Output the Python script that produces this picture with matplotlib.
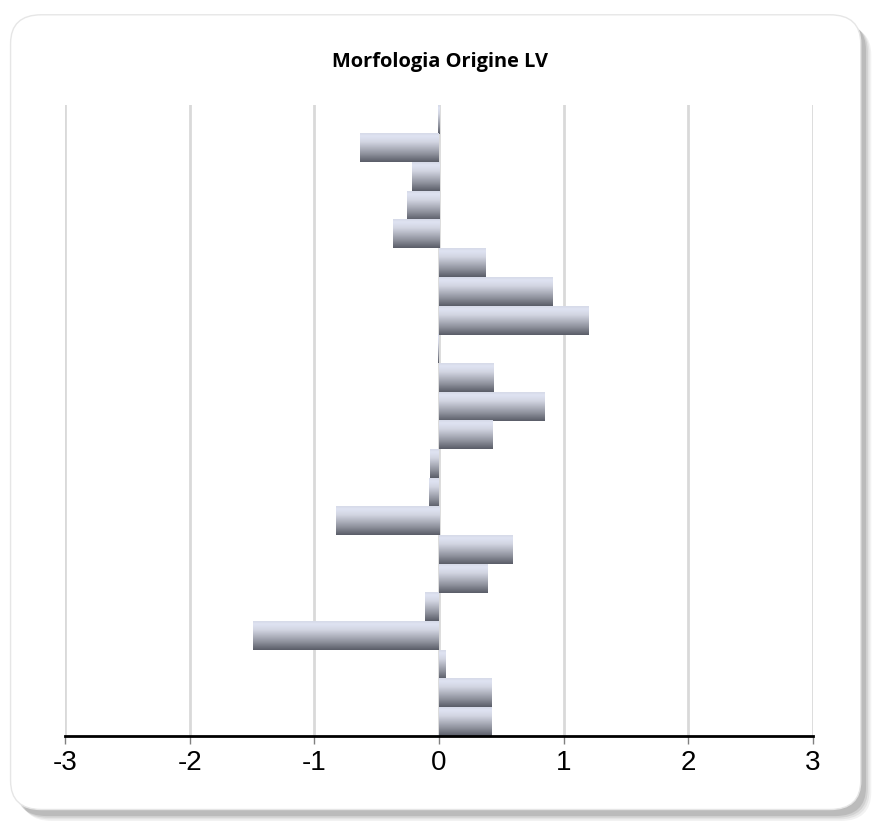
#!/usr/bin/env python3

import numpy as np
import matplotlib
matplotlib.use('Agg')
import matplotlib.pyplot as plt
from matplotlib.patches import FancyBboxPatch
from matplotlib.colors import LinearSegmentedColormap

# values, top bar first
values = [-0.01, -0.63, -0.22, -0.26, -0.37, 0.37, 0.91, 1.20, -0.005, 0.44,
          0.85, 0.43, -0.07, -0.08, -0.83, 0.59, 0.39, -0.11, -1.49, 0.05,
          0.42, 0.42]
xticks = [-3, -2, -1, 0, 1, 2, 3]
title = 'Morfologia Origine LV'


def main():
    fig = plt.figure(figsize=(8.81, 8.21), dpi=100)

    # rounded card with a soft shadow
    for i, a in enumerate([0.05, 0.06, 0.08, 0.10]):
        off = (4 - i) * 0.002
        shadow = FancyBboxPatch((0.012 + off + 0.004, 0.012 - off - 0.004), 0.965, 0.968,
                                boxstyle='round,pad=0,rounding_size=0.035',
                                transform=fig.transFigure, facecolor='black',
                                edgecolor='none', alpha=a, zorder=-2)
        fig.patches.append(shadow)
    card = FancyBboxPatch((0.012, 0.014), 0.965, 0.968,
                          boxstyle='round,pad=0,rounding_size=0.035',
                          transform=fig.transFigure, facecolor='white',
                          edgecolor='#e6e6e6', linewidth=1, zorder=-1)
    fig.patches.append(card)

    ax = fig.add_axes([0.0738, 0.1035, 0.849, 0.7685])
    ax.set_facecolor('none')
    ax.set_zorder(2)

    n = len(values)
    y = np.arange(n)
    bars = ax.barh(y, values, height=1.0, color='none', edgecolor='none')

    # vertical gradient: pale lavender on top, dark slate at the bottom
    cmap = LinearSegmentedColormap.from_list(
        'bar', [(0.0, '#d6dae8'), (0.1, '#dfe3f2'), (0.3, '#d2d5e2'),
                (0.5, '#b3b6c2'), (0.75, '#8a8d98'), (1.0, '#5a5d68')])
    grad = np.linspace(0, 1, 64).reshape(-1, 1)
    for b in bars:
        x0 = b.get_x()
        x1 = x0 + b.get_width()
        y0 = b.get_y()
        y1 = y0 + b.get_height()
        ax.imshow(grad, cmap=cmap, aspect='auto', interpolation='bilinear',
                  extent=(min(x0, x1), max(x0, x1), y1, y0), zorder=2)

    ax.set_xlim(-3, 3)
    ax.set_ylim(n - 0.5, -0.5)
    ax.set_xticks(xticks)
    ax.set_xticklabels([str(t) for t in xticks], fontsize=20,
                       family='Liberation Sans')
    ax.set_yticks([])
    ax.xaxis.grid(True, color='#d9d9d9', linewidth=2)
    ax.set_axisbelow(True)
    for s in ['top', 'right', 'left']:
        ax.spines[s].set_visible(False)
    ax.spines['bottom'].set_linewidth(2)
    ax.spines['bottom'].set_color('black')
    ax.tick_params(axis='x', direction='out', length=6, width=1, pad=4,
                   color='#808080', labelcolor='black')

    fig.text(0.5, 0.924, title, ha='center', va='center', fontsize=14.4,
             fontweight='bold', family='Open Sans')

    fig.savefig('out.png', dpi=100)


if __name__ == '__main__':
    main()
